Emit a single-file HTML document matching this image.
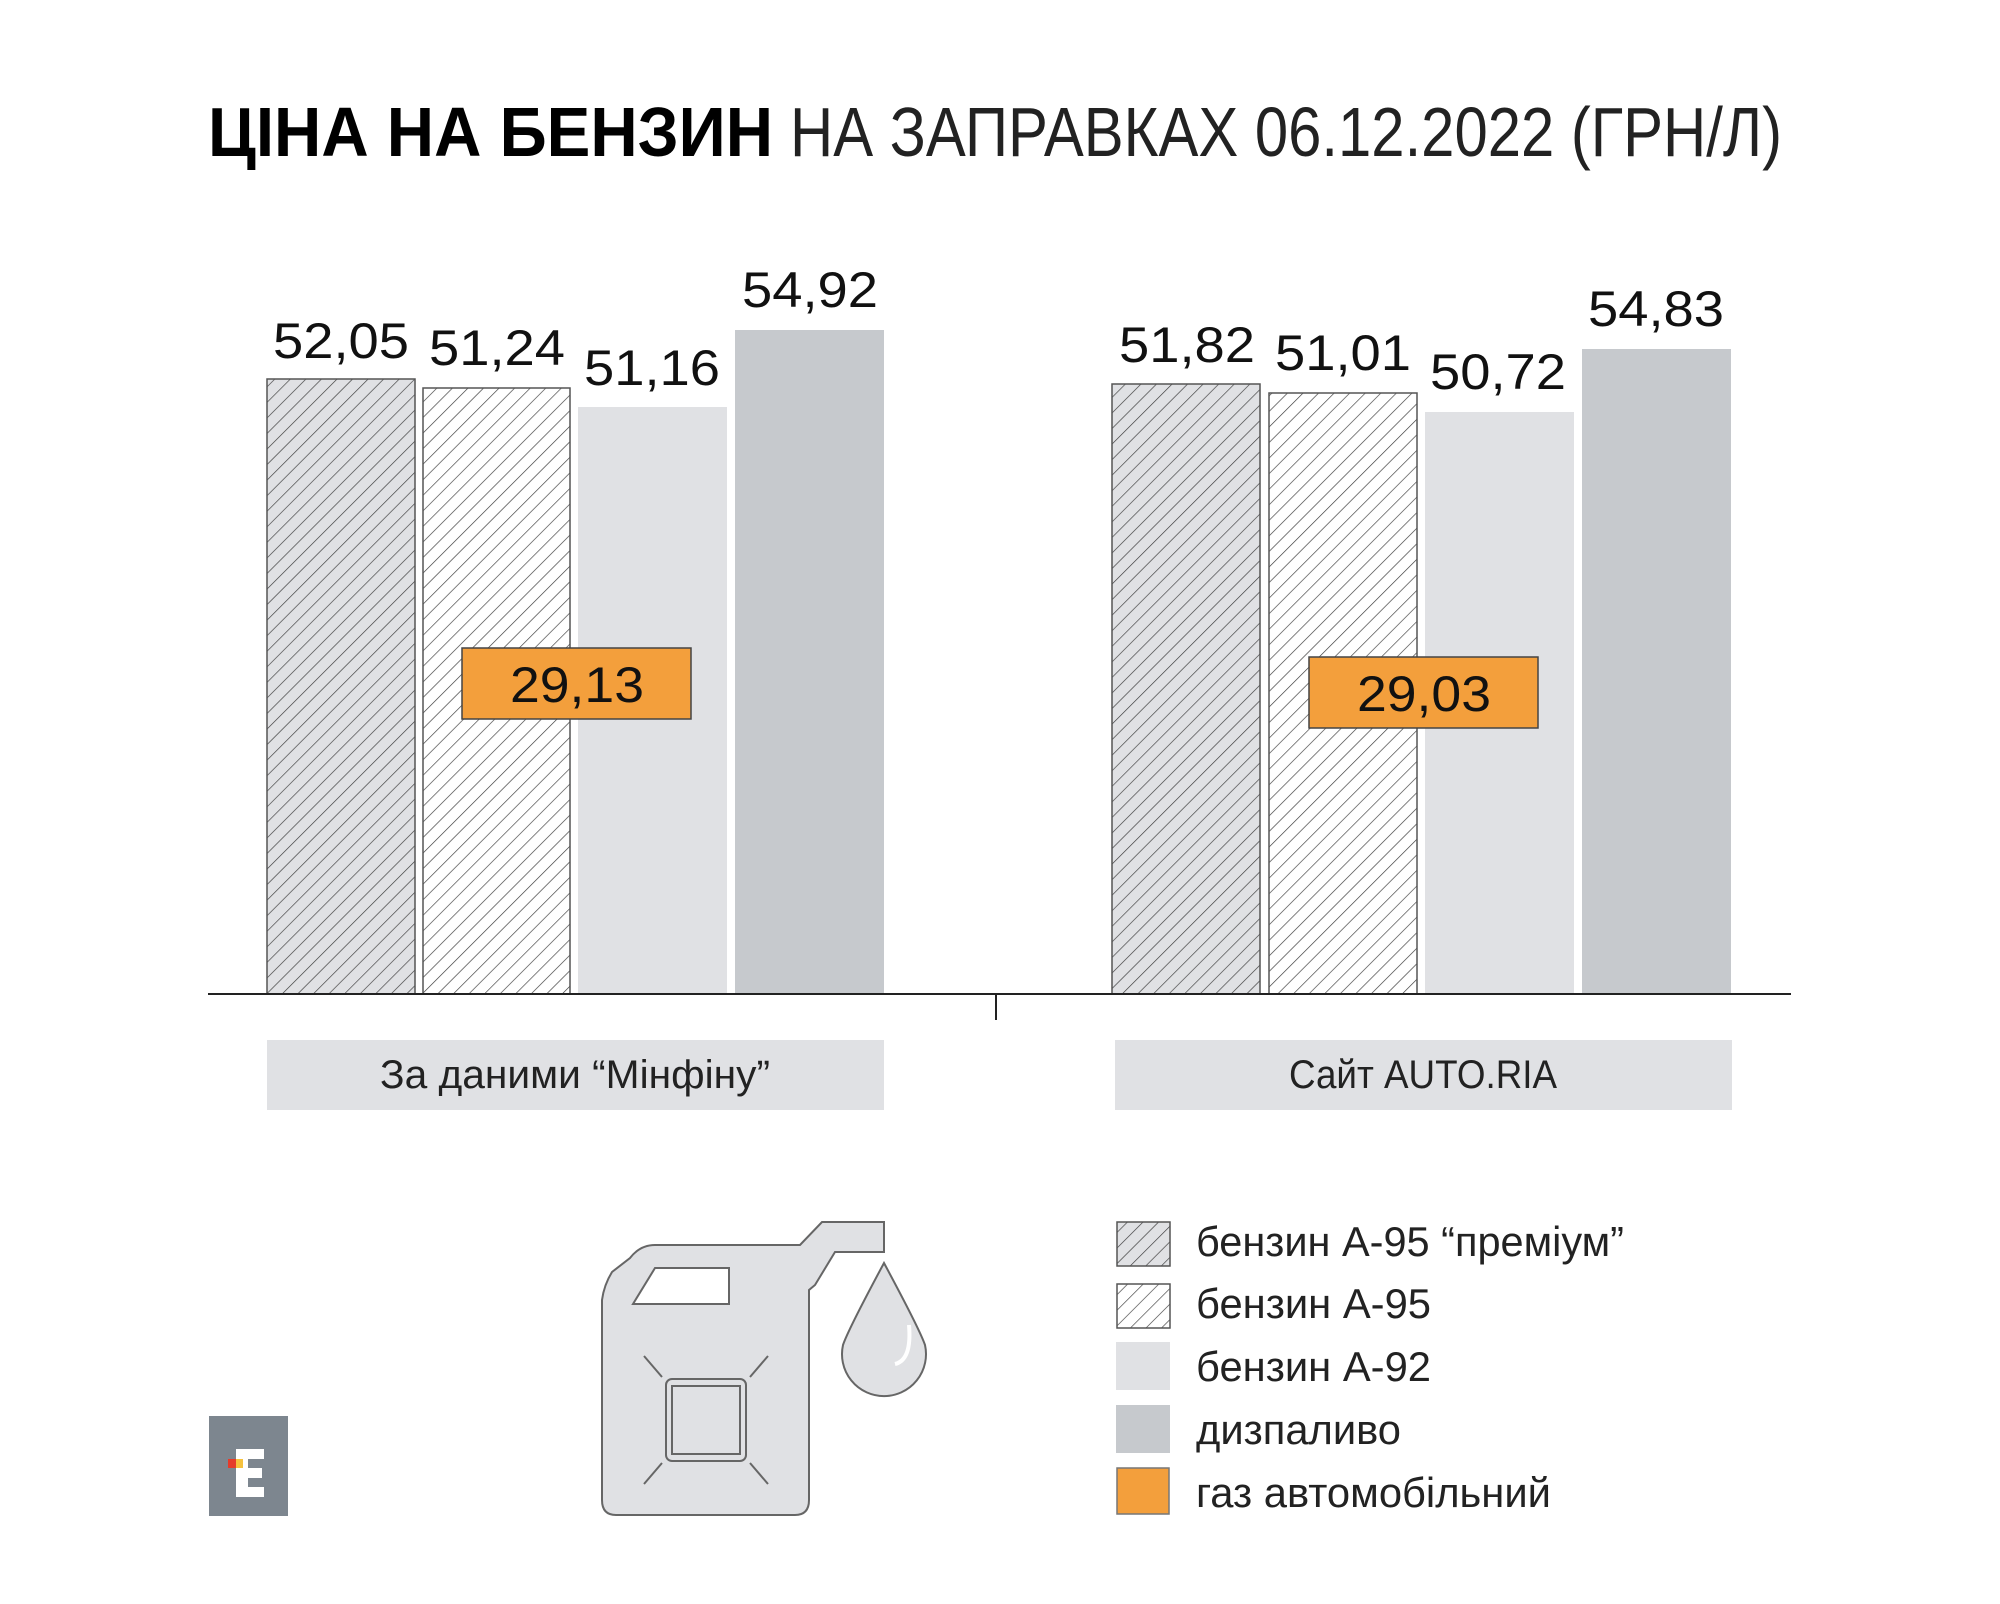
<!DOCTYPE html>
<html><head><meta charset="utf-8"><style>html,body{margin:0;padding:0;background:#fff}svg{display:block}</style></head>
<body>
<svg width="2000" height="1604" viewBox="0 0 2000 1604" xmlns="http://www.w3.org/2000/svg" font-family="Liberation Sans, DejaVu Sans, sans-serif">
<defs>
<pattern id="h1" patternUnits="userSpaceOnUse" width="11" height="11" patternTransform="rotate(45)">
<rect width="11" height="11" fill="#e0e1e4"/><line x1="0" y1="0" x2="0" y2="11" stroke="#3a3a3a" stroke-width="1.3"/></pattern>
<pattern id="h2" patternUnits="userSpaceOnUse" width="11" height="11" patternTransform="rotate(45)">
<rect width="11" height="11" fill="#fff"/><line x1="0" y1="0" x2="0" y2="11" stroke="#3a3a3a" stroke-width="1.3"/></pattern>
</defs>
<text x="208" y="156" font-size="70" font-weight="bold" textLength="565" lengthAdjust="spacingAndGlyphs" fill="#000">ЦІНА НА БЕНЗИН</text>
<text x="790" y="156" font-size="70" textLength="992" lengthAdjust="spacingAndGlyphs" fill="#222">НА ЗАПРАВКАХ 06.12.2022 (ГРН/Л)</text>

<g stroke="#555" stroke-width="1.5">
<rect x="267" y="379" width="148" height="615" fill="url(#h1)"/>
<rect x="423" y="388" width="147" height="606" fill="url(#h2)"/>
<rect x="1112" y="384" width="148" height="610" fill="url(#h1)"/>
<rect x="1269" y="393" width="148" height="601" fill="url(#h2)"/>
</g>
<rect x="578" y="407" width="149" height="587" fill="#e0e1e4"/>
<rect x="735" y="330" width="149" height="664" fill="#c6c9cd"/>
<rect x="1425" y="412" width="149" height="582" fill="#e0e1e4"/>
<rect x="1582" y="349" width="149" height="645" fill="#c6c9cd"/>
<line x1="208" y1="994" x2="1791" y2="994" stroke="#222" stroke-width="2"/>
<line x1="996" y1="994" x2="996" y2="1020" stroke="#222" stroke-width="2"/>

<g font-size="50" fill="#111" text-anchor="middle">
<text x="341" y="358" textLength="136" lengthAdjust="spacingAndGlyphs">52,05</text>
<text x="497" y="365" textLength="136" lengthAdjust="spacingAndGlyphs">51,24</text>
<text x="652" y="385" textLength="136" lengthAdjust="spacingAndGlyphs">51,16</text>
<text x="810" y="307" textLength="136" lengthAdjust="spacingAndGlyphs">54,92</text>
<text x="1187" y="362" textLength="136" lengthAdjust="spacingAndGlyphs">51,82</text>
<text x="1343" y="370" textLength="136" lengthAdjust="spacingAndGlyphs">51,01</text>
<text x="1498" y="389" textLength="136" lengthAdjust="spacingAndGlyphs">50,72</text>
<text x="1656" y="326" textLength="136" lengthAdjust="spacingAndGlyphs">54,83</text>
</g>
<rect x="462" y="648" width="229" height="71" fill="#f39f3c" stroke="#444" stroke-width="1.5"/>
<rect x="1309" y="657" width="229" height="71" fill="#f39f3c" stroke="#444" stroke-width="1.5"/>
<g font-size="50" fill="#111" text-anchor="middle">
<text x="577" y="702" textLength="134" lengthAdjust="spacingAndGlyphs">29,13</text>
<text x="1424" y="711" textLength="134" lengthAdjust="spacingAndGlyphs">29,03</text>
</g>

<rect x="267" y="1040" width="617" height="70" fill="#e0e1e4"/>
<rect x="1115" y="1040" width="617" height="70" fill="#e0e1e4"/>
<g font-size="40" fill="#222" text-anchor="middle">
<text x="575" y="1088" textLength="390" lengthAdjust="spacingAndGlyphs">За даними “Мінфіну”</text>
<text x="1423" y="1088" textLength="268" lengthAdjust="spacingAndGlyphs">Сайт AUTO.RIA</text>
</g>

<!-- canister -->
<g fill="#e0e1e4" stroke="#666" stroke-width="2">
<path d="M602 1500 L602 1300 Q604 1285 612 1272 L630 1258 Q640 1245 655 1245 L800 1245 L822 1222 L884 1222 L884 1252 L835 1252 L815 1285 L809 1290 L809 1500 Q809 1515 795 1515 L616 1515 Q602 1515 602 1500 Z"/>
<path d="M633 1304 L655 1268 L729 1268 L729 1304 Z" fill="#fff"/>
<rect x="666" y="1379" width="80" height="82" rx="6" fill="none"/>
<rect x="672" y="1386" width="68" height="68" fill="none"/>
<line x1="644" y1="1356" x2="662" y2="1377" /><line x1="768" y1="1356" x2="750" y2="1377"/>
<line x1="644" y1="1484" x2="662" y2="1463"/><line x1="768" y1="1484" x2="750" y2="1463"/>
<path d="M884 1263 Q920 1330 925 1345 A42 42 0 1 1 843 1345 Q848 1330 884 1263 Z"/>
<path d="M909 1325 Q912 1360 895 1364" fill="none" stroke="#fff" stroke-width="4"/>
</g>

<!-- legend -->
<g stroke="#555" stroke-width="1.5">
<rect x="1117" y="1222" width="53" height="44" fill="url(#h1)"/>
<rect x="1117" y="1284" width="53" height="44" fill="url(#h2)"/>
</g>
<rect x="1116" y="1342" width="54" height="48" fill="#e0e1e4"/>
<rect x="1116" y="1405" width="54" height="48" fill="#c6c9cd"/>
<rect x="1117" y="1468" width="52" height="46" fill="#f39f3c" stroke="#777" stroke-width="1.5"/>
<g font-size="42" fill="#222">
<text x="1196" y="1256" textLength="428" lengthAdjust="spacingAndGlyphs">бензин А-95 “преміум”</text>
<text x="1196" y="1318" textLength="235" lengthAdjust="spacingAndGlyphs">бензин А-95</text>
<text x="1196" y="1381" textLength="235" lengthAdjust="spacingAndGlyphs">бензин А-92</text>
<text x="1196" y="1444" textLength="205" lengthAdjust="spacingAndGlyphs">дизпаливо</text>
<text x="1196" y="1507" textLength="355" lengthAdjust="spacingAndGlyphs">газ автомобільний</text>
</g>

<!-- logo -->
<rect x="209" y="1416" width="79" height="100" fill="#7d868f"/>
<path d="M236 1449 L264 1449 L264 1459 L248 1459 L248 1468 L262 1468 L262 1478 L248 1478 L248 1487 L264 1487 L264 1497 L236 1497 Z" fill="#fff"/>
<rect x="228" y="1459" width="8" height="9" fill="#e53b2a"/>
<rect x="236" y="1459" width="7" height="9" fill="#f6c23e"/>
</svg>
</body></html>
